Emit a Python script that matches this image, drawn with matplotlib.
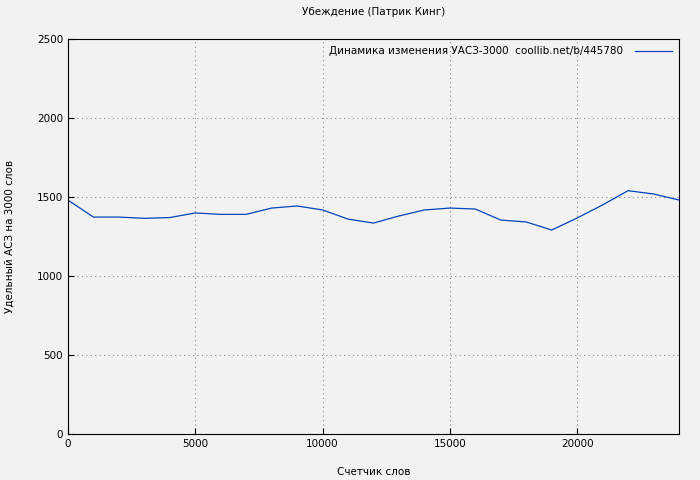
import matplotlib
matplotlib.use('Agg')
from matplotlib import pyplot as plt

words = list(range(0, 24001, 1000))
uas = [1480, 1373, 1373, 1365, 1370, 1399, 1390, 1390, 1430, 1443, 1418, 1360,
       1335, 1380, 1418, 1430, 1424, 1354, 1342, 1291, 1367, 1450, 1540, 1519, 1481]

plt.rcParams['font.family'] = 'DejaVu Sans'
plt.rcParams['font.size'] = 7.5

fig = plt.figure(figsize=(7, 4.8), dpi=100, facecolor='#f2f2f2')
ax = fig.add_axes([68/700, 1-434/480, 611/700, 395/480], facecolor='#f2f2f2')
ax.plot(words, uas, color='#0044bb', lw=0.9,
        label='Динамика изменения УАСЗ-3000  coollib.net/b/445780')
ax.set_xlim(0, 24000)
ax.set_ylim(0, 2500)
ax.set_xticks(range(0, 24001, 5000))
ax.set_yticks(range(0, 2501, 500))
ax.grid(True, color='#888888', ls=(0, (1, 3)), lw=0.8)
ax.tick_params(direction='in', length=4)
ax.set_title('Убеждение (Патрик Кинг)', fontsize=7.5, pad=17)
ax.set_xlabel('Счетчик слов', labelpad=13)
ax.set_ylabel('Удельный АСЗ на 3000 слов', labelpad=16)
ax.legend(loc='upper right', frameon=False, handlelength=3.5, markerfirst=False,
          handletextpad=1.2, borderaxespad=0.3)
fig.savefig('out.png', dpi=100, facecolor=fig.get_facecolor())
